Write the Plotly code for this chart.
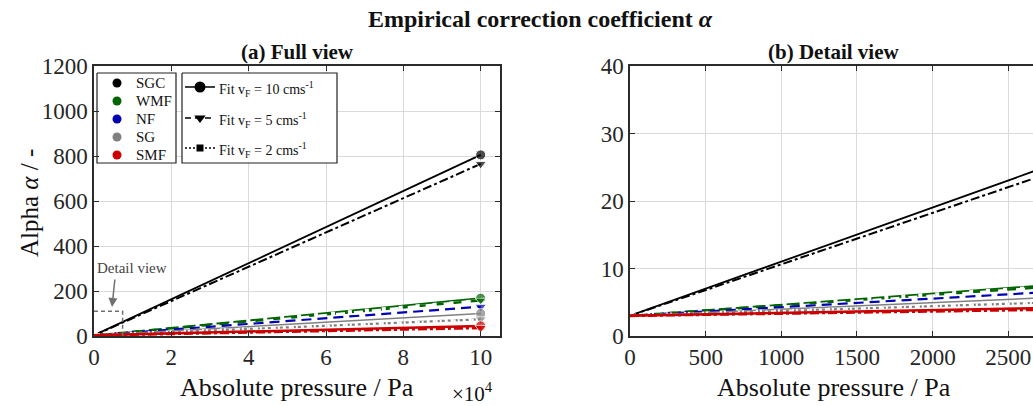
import plotly.graph_objects as go

# ---------------- data ----------------
pressure_pa = [0, 100000]            # fit lines span 0 .. 1e5 Pa
materials = ["SGC", "WMF", "NF", "SG", "SMF"]
material_colors = ["#000000", "#006400", "#0000b4", "#808080", "#cc0000"]

# alpha at p = 0 and p = 1e5 Pa (linear fits)
sgc_v10 = [3.0, 805.0]
sgc_v5 = [3.0, 765.0]
wmf_v10 = [3.0, 168.0]
wmf_v5 = [3.0, 158.0]
wmf_v2 = [3.0, 152.0]
nf_v5 = [3.0, 130.0]
sg_v10 = [3.0, 100.0]
sg_v5 = [3.0, 74.0]
sg_v2 = [3.0, 70.0]
smf_v10 = [3.0, 45.0]
smf_v5 = [3.0, 36.0]

fit_labels = ["Fit v<sub>F</sub> = 10 cms<sup>-1</sup>",
              "Fit v<sub>F</sub> = 5 cms<sup>-1</sup>",
              "Fit v<sub>F</sub> = 2 cms<sup>-1</sup>"]
fit_dashes = ["solid", "6px,4px", "2px,2px"]
fit_symbols = ["circle", "triangle-down", "square"]

x_ticks_full = [0, 20000, 40000, 60000, 80000, 100000]
x_ticktext_full = ["0", "2", "4", "6", "8", "10"]
y_ticks_full = [0, 200, 400, 600, 800, 1000, 1200]
x_ticks_detail = [0, 500, 1000, 1500, 2000, 2500]
y_ticks_detail = [0, 10, 20, 30, 40]

detail_box_x = [0, 7400]
detail_box_y = [0, 110]

FONT = "Liberation Serif, Times New Roman, DejaVu Serif, serif"
TXT = "#262626"
GREEN, BLUE, GRAY, RED = material_colors[1], material_colors[2], material_colors[3], material_colors[4]

series = [
    # values, color, dash, width, symbol, marker size
    (sgc_v10, "#000000", "solid", 1.8, "circle", 10),
    (sgc_v5, "#000000", "9px,3px,3px,3px", 2.0, "triangle-down", 10),
    (wmf_v10, GREEN, "solid", 1.8, "circle", 10),
    (wmf_v5, GREEN, "dash", 2.4, "triangle-down", 9),
    (wmf_v2, "#ffffff", "4px,13px", 6, None, 0),
    (nf_v5, BLUE, "10px,6px", 2.2, "triangle-down", 10),
    (sg_v10, GRAY, "solid", 1.6, "circle", 10),
    (sg_v5, GRAY, "dashdot", 2.2, "triangle-down", 10),
    (sg_v2, "#ffffff", "2px,2px,2px,12px", 4, None, 0),
    (smf_v10, RED, "solid", 2.5, "circle", 10),
    (smf_v5, RED, "dashdot", 2.8, "triangle-down", 10),
]

# ---------------- geometry (window px; body margin removed by post_script) ----------------
W, H = 1033, 406
ML, MT, MB = 94, 66, H - 336
PW, PH = W - ML, H - MT - MB


def px(X):
    return (X - ML) / PW


def py(Y):
    return (H - Y - MB) / PH


fig = go.Figure()

for xa, ya in (("x", "y"), ("x2", "y2")):
    for vals, col, dash, w, sym, ms in series:
        fig.add_trace(go.Scatter(
            x=pressure_pa, y=vals, xaxis=xa, yaxis=ya,
            mode="lines+markers" if sym else "lines",
            line=dict(color=col, dash=dash, width=w),
            marker=dict(symbol=sym or "circle", size=[0, ms], color=col),
            showlegend=False, hoverinfo="skip"))

# detail-view box on full view
fig.add_trace(go.Scatter(x=[detail_box_x[0], detail_box_x[1], detail_box_x[1]],
                         y=[detail_box_y[1], detail_box_y[1], detail_box_y[0] - 8],
                         mode="lines", line=dict(color="#707070", dash="4px,3px", width=1.5),
                         showlegend=False, hoverinfo="skip", cliponaxis=False))

# ---------------- hand-drawn legends on an overlay axis in window pixels ----------------
LX = dict(xaxis="x3", yaxis="y3", showlegend=False, hoverinfo="skip")
for x0, x1 in ((97, 176), (182, 337)):
    fig.add_trace(go.Scatter(x=[x0, x1, x1, x0, x0], y=[73, 73, 163, 163, 73],
                             mode="lines", fill="toself", fillcolor="white",
                             line=dict(color="#222", width=1.2), **LX))
leg1_y = [83, 101, 119, 137, 155]
fig.add_trace(go.Scatter(x=[117] * 5, y=leg1_y, mode="markers",
                         marker=dict(color=material_colors, size=9), **LX))
leg2_y = [87, 118, 148]
for yy, dash, sym in zip(leg2_y, fit_dashes, fit_symbols):
    fig.add_trace(go.Scatter(x=[185, 215], y=[yy, yy], mode="lines",
                             line=dict(color="black", dash=dash, width=1.5), **LX))
    fig.add_trace(go.Scatter(x=[200], y=[yy], mode="markers",
                             marker=dict(color="black", symbol=sym,
                                         size=11 if sym == "circle" else (10 if sym != "square" else 7)),
                             **LX))

axis_common = dict(showgrid=True, gridcolor="#dadada", gridwidth=1,
                   showline=True, linecolor="#2b2b2b", linewidth=1.5,
                   ticks="inside", ticklen=5, tickcolor="#2b2b2b", tickwidth=1.2,
                   tickfont=dict(family=FONT, size=23, color=TXT),
                   ticklabeloverflow="allow", zeroline=False)

L1 = 406 / PW
R0 = (630 - ML) / PW
right_max = (1033 - 630) / (75.66 / 500)

fig.update_layout(
    width=W, height=H,
    margin=dict(l=ML, r=0, t=MT, b=MB, autoexpand=False),
    plot_bgcolor="white", paper_bgcolor="white",
    font=dict(family=FONT, color=TXT),
    showlegend=False,
    xaxis=dict(domain=[0, L1], range=[0, 105000], tickvals=x_ticks_full,
               ticktext=x_ticktext_full, mirror="ticks", anchor="y", **axis_common),
    yaxis=dict(domain=[0, 1], range=[0, 1200], tickvals=y_ticks_full,
               mirror="ticks", anchor="x", **axis_common),
    xaxis2=dict(domain=[R0, 1.0], range=[0, right_max], tickvals=x_ticks_detail,
                mirror="ticks", anchor="y2", **axis_common),
    yaxis2=dict(domain=[0, 1], range=[0, 40], tickvals=y_ticks_detail,
                anchor="x2", **axis_common),
    xaxis3=dict(overlaying="x", range=[94, 500], visible=False, anchor="y3"),
    yaxis3=dict(overlaying="y", range=[336, 66], visible=False, anchor="x3"),
)

ann = [
    dict(text="<b>Empirical correction coefficient <i>α</i></b>", x=540, y=19, size=24),
    dict(text="<b>(a) Full view</b>", x=297, y=52, size=21),
    dict(text="<b>(b) Detail view</b>", x=833, y=52, size=21),
    dict(text="Absolute pressure / Pa", x=297, y=387, size=26),
    dict(text="Absolute pressure / Pa", x=834, y=387, size=26),
    dict(text="×10<sup>4</sup>", x=472, y=392, size=21),
    dict(text="Alpha <i>α</i> / -", x=29, y=203, size=25, angle=-90),
    dict(text="Detail view", x=132, y=268, size=15, color="#444"),
]
for a in ann:
    fig.add_annotation(xref="paper", yref="paper", showarrow=False,
                       x=px(a["x"]), y=py(a["y"]),
                       xanchor="center", yanchor="middle", text=a["text"],
                       font=dict(family=FONT, color=a.get("color", "#111"), size=a["size"]),
                       textangle=a.get("angle", 0))

# legend texts
for name, yy in zip(materials, leg1_y):
    fig.add_annotation(xref="x3", yref="y3", x=134, y=yy, text=name, showarrow=False,
                       xanchor="left", yanchor="middle",
                       font=dict(family=FONT, size=15, color="#111"))
for lab, yy in zip(fit_labels, leg2_y):
    fig.add_annotation(xref="x3", yref="y3", x=217, y=yy + 2, text=lab, showarrow=False,
                       xanchor="left", yanchor="middle",
                       font=dict(family=FONT, size=14, color="#111"))

# arrow pointing at detail box
fig.add_annotation(xref="paper", yref="paper", axref="pixel", ayref="pixel",
                   x=px(112), y=py(307), ax=3, ay=-29, showarrow=True, arrowhead=2,
                   arrowsize=1.2, arrowwidth=1.5, arrowcolor="#707070", text="")

fig.write_html("out.html",
               config={"displayModeBar": False},
               post_script="document.body.style.margin='0';"
                           "document.body.style.overflow='hidden';")
